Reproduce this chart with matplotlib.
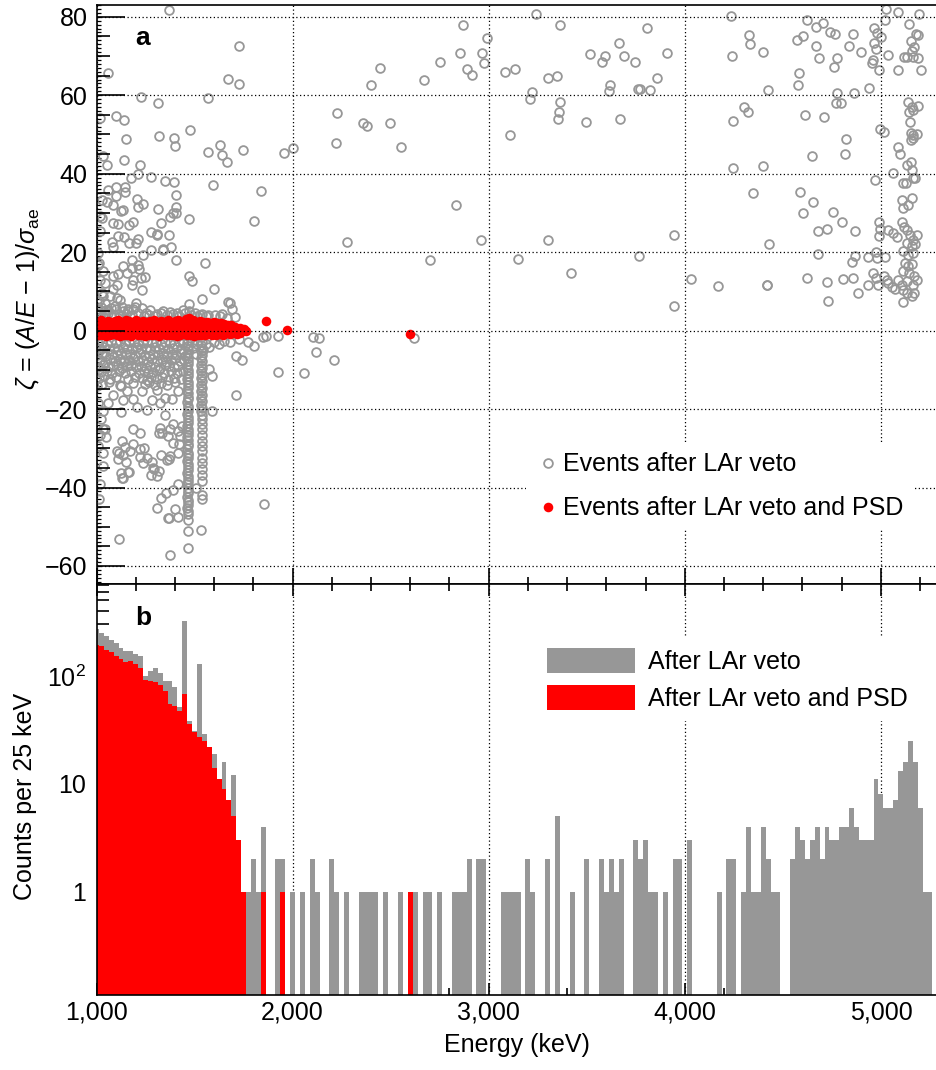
import numpy as np
import matplotlib
matplotlib.use("Agg")
import matplotlib.pyplot as plt
from matplotlib.lines import Line2D
from matplotlib.patches import Patch
from matplotlib.ticker import MultipleLocator, LogLocator, NullFormatter, StrMethodFormatter

plt.rcParams["font.family"] = ["Liberation Sans", "DejaVu Sans"]
plt.rcParams["mathtext.fontset"] = "custom"
plt.rcParams["mathtext.rm"] = "Liberation Sans"
plt.rcParams["mathtext.it"] = "Liberation Sans:italic"
plt.rcParams["mathtext.bf"] = "Liberation Sans:bold"
plt.rcParams["font.size"] = 18

# ---- panel a: (energy keV, zeta) ----
# sparse events with zeta > 3 below 2.1 MeV
grey_left_hi = [
    (1370, 81.7), (1060, 65.7), (1728, 72.6), (1669, 64.2), (1725, 62.8), (1228, 59.5),
    (1570, 59.3), (1314, 57.9), (1018, 54.1), (1101, 54.8), (1142, 53.6), (1152, 48.9),
    (1477, 51.1), (1320, 49.7), (1397, 49.0), (1399, 47.1), (1570, 45.6), (1630, 47.4),
    (1638, 44.8), (1665, 43.0), (1747, 46.0), (1956, 45.3), (2000, 46.5), (1035, 44.4),
    (1052, 42.1), (1139, 43.5), (1223, 42.3), (1210, 39.9), (1276, 39.1), (1348, 38.2),
    (1395, 38.0), (1405, 34.5), (1407, 31.5), (1404, 30.0), (1373, 28.9), (1596, 37.1),
    (1840, 35.7), (1803, 27.9), (1472, 28.4), (1315, 30.9), (1330, 27.3), (1276, 25.1),
    (1310, 24.4), (1370, 24.3), (1380, 21.4), (1341, 20.8), (1276, 20.6), (1239, 19.3),
    (1405, 18.0), (1553, 17.3), (1472, 13.8), (1489, 12.7), (1598, 10.6), (1177, 38.8),
    (1145, 36.7), (1099, 36.7), (1060, 35.9), (1099, 34.4), (1145, 35.4), (1205, 33.6),
    (1239, 32.3), (1210, 31.5), (1052, 32.9), (1086, 31.9), (1123, 30.5), (1137, 30.8),
    (1018, 29.3), (1086, 27.4), (1111, 27.2), (1167, 27.0), (1188, 27.8), (1392, 30.0),
    (1307, 24.6), (1018, 25.3), (1077, 22.7), (1111, 24.0), (1142, 23.8), (1167, 22.3),
    (1201, 22.3), (1213, 23.4), (1086, 21.3), (1338, 20.6), (1179, 17.9), (1213, 16.8),
    (1137, 16.4), (1179, 16.0), (1218, 15.7), (1014, 17.2), (1035, 15.1), (1086, 13.8),
    (1111, 14.5), (1154, 14.7), (1188, 13.0), (1225, 13.4), (1247, 13.7), (1179, 11.7),
    (1230, 10.4), (1043, 12.1), (1086, 10.6), (1103, 11.7), (1026, 9.6), (1069, 8.7),
    (1103, 8.3), (1043, 7.0), (1536, 8.1), (1472, 6.8), (1669, 7.2), (1472, 5.1),
    (1273, 5.3), (1230, 5.8), (1188, 5.5), (1375, 4.7), (1528, 4.1), (1558, 3.6),
    (1604, 3.9), (1664, 3.2), (1706, 3.4), (1094, 6.2), (1137, 4.9), (1026, 33.3),
    (1026, 28.7), (1010, 19.8), (1008, 16.8), (1018, 13.0), (1035, 8.8), (1060, 5.2),
    (1020, 4.5), (1045, 4.0), (1115, 4.3), (1160, 5.0), (1250, 4.5), (1310, 4.2),
    (1340, 5.0), (1410, 4.4), (1440, 5.2), (1500, 4.6), (1640, 4.3), (1690, 5.6),
    (1010, 4.2), (1035, 3.8), (1060, 4.4), (1090, 4.0), (1120, 3.7), (1150, 4.3),
    (1180, 3.9), (1210, 4.5), (1240, 3.8), (1270, 4.1), (1300, 3.7), (1330, 4.4),
    (1360, 3.9), (1390, 4.2), (1420, 3.8), (1450, 4.6), (1480, 4.1), (1510, 3.8),
    (1540, 4.3), (1570, 3.9), (1630, 3.7), (1005, 5.6), (1025, 6.0), (1050, 5.3),
    (1075, 5.8), (1100, 5.4), (1130, 6.1), (1160, 5.5), (1195, 5.9), (1015, 7.5),
    (1120, 7.8), (1200, 7.0), (1681, 7.1),
]

# events above 2.1 MeV (mostly alpha-like, positive zeta)
grey_right_hi = [
    (2226, 55.5), (2221, 47.8), (2357, 52.8), (2381, 52.2), (2495, 53.0), (2553, 46.8),
    (2398, 62.5), (2446, 67.0), (2672, 63.9), (2752, 68.4), (2855, 70.7), (2871, 78.0),
    (2888, 66.8), (2833, 32.1), (2276, 22.5), (2702, 18.1), (3241, 80.8), (3365, 78.0),
    (2990, 74.7), (2966, 70.8), (2977, 68.1), (2913, 65.1), (3082, 66.0), (3136, 66.7),
    (3300, 64.4), (3347, 64.9), (3219, 60.7), (3211, 59.1), (3364, 58.3), (3357, 55.6),
    (3352, 54.0), (3110, 49.9), (3498, 53.1), (3515, 70.5), (3578, 68.5), (3593, 70.0),
    (3666, 73.4), (3688, 70.0), (3744, 68.5), (3807, 77.2), (3908, 70.7), (3860, 64.5),
    (3619, 62.5), (3612, 61.1), (3760, 61.6), (3771, 61.6), (3824, 61.3), (3670, 54.0),
    (2959, 23.1), (3301, 23.1), (3151, 18.3), (3420, 14.8), (3768, 18.9), (3946, 24.4),
    (3943, 6.3), (4032, 13.2), (4168, 11.3), (4418, 11.6), (4236, 80.1), (4326, 75.3),
    (4333, 73.0), (4243, 70.0), (4400, 71.1), (4426, 61.3), (4302, 57.1), (4321, 55.7),
    (4244, 53.4), (4244, 41.4), (4397, 41.9), (4350, 35.0), (4431, 22.1),
    (5026, 81.9), (5089, 81.3), (5196, 80.8), (5022, 79.1), (4622, 79.1), (4669, 77.4),
    (4706, 78.3), (4571, 74.0), (4604, 75.1), (4740, 76.0), (4766, 75.7), (4856, 75.7),
    (4669, 72.5), (4839, 72.5), (4899, 70.9), (4686, 69.6), (4775, 69.6), (4761, 67.3),
    (4965, 77.2), (4979, 75.9), (4999, 74.9), (4966, 73.2), (4975, 71.9), (4958, 69.1),
    (4953, 68.3), (4992, 66.4), (5038, 70.2), (5143, 78.1), (5179, 75.7), (5191, 75.3),
    (5152, 73.9), (5169, 72.3), (5157, 71.3), (5118, 69.8), (5132, 69.8), (5165, 69.8),
    (5188, 69.6), (5089, 66.4), (5204, 66.4), (4584, 65.7), (4576, 62.6), (4775, 60.5),
    (4771, 57.9), (4795, 58.1), (4864, 60.6), (4938, 61.8), (4613, 55.0), (4711, 54.4),
    (4995, 51.3), (5016, 50.7), (4822, 48.8), (4647, 44.4), (4817, 45.0), (5140, 58.3),
    (5157, 57.1), (5191, 57.3), (5145, 55.6), (5162, 56.2), (5148, 53.3), (5152, 50.3),
    (5162, 49.9), (5183, 50.1), (5152, 48.6), (5165, 49.0), (5089, 46.7), (5097, 45.0),
    (5132, 42.2), (5154, 43.1), (5157, 41.0), (5174, 38.9), (5162, 38.9), (5111, 37.7),
    (5128, 37.6), (5063, 40.3), (4970, 38.4), (4587, 35.3), (4655, 32.9), (4604, 29.9),
    (4754, 30.3), (4802, 27.7), (4681, 25.5), (4723, 25.9), (4868, 25.3), (4988, 27.8),
    (4997, 25.9), (4988, 24.2), (5038, 25.7), (5063, 25.0), (5084, 23.8), (5106, 33.3),
    (5114, 31.2), (5140, 32.1), (5157, 33.8), (5108, 27.8), (5118, 26.5), (5132, 25.7),
    (5148, 24.4), (5165, 23.2), (5183, 24.4), (5132, 22.3), (5157, 21.5), (5174, 22.1),
    (5114, 20.2), (5140, 19.3), (5162, 19.8), (5123, 17.2), (5140, 16.4), (5157, 17.0),
    (5114, 15.1), (5145, 14.7), (5169, 13.8), (5183, 12.8), (5089, 13.0), (5132, 12.7),
    (5108, 11.7), (5162, 11.7), (5114, 10.4), (5169, 9.6), (5157, 8.7), (5111, 7.2),
    (5132, 9.6), (4975, 20.0), (5021, 18.8), (4936, 18.8), (4979, 18.5), (4868, 19.1),
    (4851, 17.6), (4681, 19.6), (4961, 14.7), (4975, 13.4), (4987, 11.5), (4936, 11.5),
    (5016, 14.0), (5038, 12.1), (5055, 11.1), (5072, 10.6), (5029, 13.0), (4622, 13.4),
    (4723, 12.5), (4808, 13.2), (4859, 13.4), (4421, 11.5), (4732, 7.6), (4882, 9.6),
]

# dense population just below the band (zeta -3 ... -14)
grey_core_lo = [
    (1008, -3.1), (1030, -2.8), (1052, -3.3), (1075, -2.9), (1098, -3.2), (1121, -2.7),
    (1144, -3.4), (1167, -3.0), (1190, -2.8), (1213, -3.3), (1236, -3.1), (1259, -2.7),
    (1282, -3.2), (1305, -3.0), (1328, -3.4), (1351, -2.8), (1374, -3.1), (1397, -3.3),
    (1420, -2.9), (1443, -3.2), (1485, -2.9), (1510, -3.3), (1560, -3.5), (1600, -2.8),
    (1625, -3.3), (1650, -2.6), (1680, -3.0), (1015, -4.6), (1040, -4.3), (1063, -4.8),
    (1088, -4.4), (1110, -4.9), (1135, -4.2), (1158, -4.7), (1180, -4.5), (1205, -4.1),
    (1228, -4.8), (1250, -4.4), (1272, -4.9), (1296, -4.3), (1318, -4.6), (1340, -4.2),
    (1365, -4.8), (1388, -4.5), (1410, -4.3), (1432, -4.7), (1490, -4.4), (1545, -5.0),
    (1575, -4.2), (1005, -6.1), (1028, -5.8), (1050, -6.4), (1078, -5.9), (1102, -6.3),
    (1125, -5.7), (1150, -6.2), (1172, -6.0), (1195, -6.5), (1222, -5.8), (1245, -6.2),
    (1268, -6.6), (1290, -5.9), (1315, -6.3), (1338, -5.7), (1360, -6.4), (1384, -6.0),
    (1405, -6.2), (1430, -5.8), (1452, -6.5), (1505, -6.0), (1020, -7.4), (1045, -7.9),
    (1068, -7.2), (1092, -7.7), (1118, -7.3), (1140, -8.0), (1165, -7.5), (1188, -7.1),
    (1210, -7.8), (1235, -7.4), (1262, -7.9), (1285, -7.3), (1310, -7.7), (1332, -7.2),
    (1356, -8.0), (1378, -7.5), (1400, -7.1), (1425, -7.8), (1445, -7.4), (1010, -9.2),
    (1035, -8.8), (1060, -9.4), (1085, -9.0), (1108, -8.7), (1130, -9.5), (1155, -9.1),
    (1178, -8.8), (1200, -9.3), (1225, -9.0), (1250, -9.6), (1275, -8.9), (1300, -9.2),
    (1325, -9.5), (1348, -8.8), (1372, -9.1), (1395, -9.4), (1418, -8.9), (1025, -10.6),
    (1055, -10.2), (1080, -10.9), (1115, -10.4), (1145, -10.8), (1175, -10.3), (1215, -10.7),
    (1240, -10.2), (1265, -10.9), (1290, -10.5), (1320, -10.1), (1345, -10.8), (1380, -10.4),
    (1410, -10.7), (1440, -10.3), (1012, -12.1), (1040, -11.7), (1070, -12.4), (1100, -11.9),
    (1160, -12.3), (1195, -11.8), (1230, -12.2), (1255, -12.6), (1280, -11.9), (1310, -12.3),
    (1335, -11.8), (1365, -12.5), (1395, -12.0), (1430, -12.4), (1030, -13.6), (1065, -13.2),
    (1120, -13.8), (1185, -13.3), (1245, -13.7), (1270, -13.1), (1300, -13.9), (1330, -13.4),
    (1360, -13.8), (1400, -13.2),
]

# sparse negative-zeta events (multi-site / surface)
grey_lo = [
    (1727, -2.1), (1774, -3.0), (1805, -4.0), (1863, -1.3), (1851, -1.6), (1927, -1.4),
    (1710, -6.4), (1740, -7.5), (1927, -10.5), (2060, -10.8), (1710, -16.5), (1590, -20.5),
    (1575, -9.7), (1587, -11.5), (1854, -44.3), (2106, -1.6), (2135, -2.0), (2118, -5.5),
    (2211, -7.5), (2621, -1.9), (1116, -53.2), (1375, -57.2), (1327, -42.6), (1370, -47.7),
    (1400, -45.5), (1414, -47.5), (1389, -40.7), (1414, -39.2), (1507, -40.2), (1129, -37.5),
    (1159, -36.1), (1278, -36.8), (1290, -35.1), (1320, -35.8), (1239, -33.7), (1222, -32.1),
    (1113, -31.1), (1137, -31.8), (1171, -30.7), (1188, -28.8), (1129, -28.2), (1145, -29.8),
    (1329, -31.6), (1370, -32.8), (1375, -32.0), (1361, -33.0), (1222, -30.3), (1422, -29.0),
    (1324, -24.8), (1320, -26.0), (1188, -25.0), (1222, -26.2), (1389, -23.7), (1417, -25.6),
    (1349, -21.6), (1035, -20.4), (1123, -20.8), (1208, -19.5), (1256, -20.3), (1035, -25.0),
    (1035, -34.5), (1083, -16.5), (1134, -17.6), (1188, -17.4), (1230, -15.4), (1285, -17.8),
    (1324, -18.4), (1349, -17.1), (1387, -17.4), (1417, -15.4), (1123, -14.2), (1154, -15.3),
    (1307, -15.2), (1103, -30.7), (1111, -32.8), (1150, -33.5), (1125, -36.2), (1167, -36.1),
    (1134, -37.7), (1242, -29.9), (1256, -32.4), (1281, -33.5), (1293, -35.2), (1307, -37.1),
    (1307, -45.2), (1353, -41.3), (1366, -47.7), (1334, -26.0), (1366, -26.9), (1375, -25.2),
    (1392, -28.6), (1417, -31.1), (1434, -24.3), (1426, -26.9), (1043, -25.2), (1018, -26.5),
    (1035, -31.1), (1018, -39.2), (1005, -14.0), (1010, -18.5), (1025, -22.5), (1008, -29.5),
    (1012, -43.0), (1060, -18.5), (1050, -27.0),
]

# 40K (1461 keV) and 42K (1525 keV) gamma-line columns
k40_column = [
    (1466, -2.5), (1464, -3.2), (1467, -4.0), (1465, -4.7), (1466, -5.6), (1464, -6.2),
    (1467, -7.0), (1465, -7.8), (1466, -8.5), (1464, -9.3), (1467, -10.0), (1465, -10.7),
    (1466, -11.5), (1464, -12.4), (1467, -13.0), (1465, -13.8), (1466, -14.6), (1464, -15.3),
    (1467, -16.0), (1465, -16.9), (1466, -17.5), (1464, -18.3), (1467, -19.1), (1465, -19.8),
    (1466, -20.5), (1464, -21.2), (1467, -22.0), (1465, -22.9), (1466, -23.5), (1464, -24.3),
    (1467, -25.1), (1465, -25.8), (1466, -26.5), (1464, -27.2), (1467, -28.0), (1465, -28.9),
    (1466, -29.5), (1464, -30.3), (1467, -31.1), (1465, -31.8), (1466, -32.5), (1464, -33.2),
    (1467, -34.0), (1465, -34.9), (1466, -35.5), (1464, -36.3), (1467, -37.1), (1465, -37.8),
    (1466, -38.5), (1464, -39.2), (1467, -40.0), (1465, -40.9), (1466, -41.5), (1464, -42.3),
    (1467, -43.1), (1465, -43.8), (1466, -44.5), (1464, -45.2), (1467, -46.0), (1466, -46.8),
    (1468, -48.3), (1468, -51.1), (1468, -55.5),
]
k42_column = [
    (1536, -2.8), (1534, -3.6), (1537, -4.5), (1535, -5.3), (1536, -6.1), (1534, -7.0),
    (1537, -7.8), (1535, -8.7), (1536, -9.5), (1534, -10.4), (1537, -11.2), (1535, -12.1),
    (1536, -12.9), (1534, -13.8), (1537, -14.6), (1535, -15.5), (1536, -16.3), (1534, -17.2),
    (1537, -18.0), (1535, -18.9), (1536, -19.7), (1534, -20.6), (1537, -21.4), (1536, -22.6),
    (1536, -23.9), (1536, -25.2), (1536, -26.7), (1536, -28.2), (1536, -29.5), (1536, -30.8),
    (1536, -32.4), (1536, -33.7), (1536, -35.4), (1536, -36.8), (1536, -38.4), (1536, -41.9),
    (1536, -43.0), (1533, -50.9),
]

# events surviving PSD (red band)
red_band = [
    (1004, 2.3), (1022, 2.6), (1040, 2.2), (1058, 2.5), (1076, 2.1), (1094, 2.4), (1112, 2.7),
    (1130, 2.3), (1148, 2.8), (1166, 2.5), (1184, 2.2), (1202, 2.6), (1220, 2.3), (1238, 2.5),
    (1256, 2.1), (1274, 2.4), (1292, 2.6), (1310, 2.2), (1328, 2.5), (1346, 2.3), (1364, 2.6),
    (1382, 2.2), (1400, 2.4), (1418, 2.7), (1436, 2.3), (1454, 2.9), (1472, 3.1), (1490, 2.6),
    (1508, 2.3), (1526, 2.5), (1544, 2.1), (1562, 2.3), (1580, 2.0), (1598, 2.2), (1616, 1.9),
    (1634, 2.0), (1652, 1.7), (1670, 1.5), (1688, 1.3), (1706, 1.0),
    (1013, 1.1), (1031, 0.9), (1049, 1.2), (1067, 0.8), (1085, 1.0), (1103, 1.3), (1121, 0.9),
    (1139, 1.1), (1157, 0.8), (1175, 1.2), (1193, 1.0), (1211, 0.9), (1229, 1.3), (1247, 1.0),
    (1265, 0.8), (1283, 1.1), (1301, 1.2), (1319, 0.9), (1337, 1.0), (1355, 1.3), (1373, 0.8),
    (1391, 1.1), (1409, 1.0), (1427, 1.2), (1445, 0.9), (1463, 1.3), (1481, 1.0), (1499, 0.8),
    (1517, 1.1), (1535, 1.2), (1553, 0.9), (1571, 1.0), (1589, 0.8), (1607, 1.1), (1625, 0.9),
    (1643, 0.7), (1661, 1.0), (1679, 0.6), (1697, 0.8), (1715, 0.5), (1733, 0.6), (1751, 0.3),
    (1004, -0.1), (1022, 0.1), (1040, -0.3), (1058, 0.0), (1076, -0.2), (1094, 0.1), (1112, -0.1),
    (1130, -0.3), (1148, 0.0), (1166, -0.2), (1184, 0.1), (1202, -0.1), (1220, -0.3), (1238, 0.0),
    (1256, 0.2), (1274, -0.2), (1292, 0.0), (1310, -0.1), (1328, 0.1), (1346, -0.3), (1364, 0.0),
    (1382, -0.2), (1400, 0.1), (1418, -0.1), (1436, 0.0), (1454, -0.2), (1472, 0.1), (1490, -0.1),
    (1508, -0.3), (1526, 0.0), (1544, -0.2), (1562, 0.1), (1580, -0.1), (1598, 0.0), (1616, -0.2),
    (1634, 0.1), (1652, -0.1), (1670, 0.0), (1688, -0.2), (1706, 0.1), (1724, -0.1), (1742, 0.0),
    (1760, -0.1),
    (1013, -1.2), (1031, -1.0), (1049, -1.3), (1067, -1.1), (1085, -0.9), (1103, -1.2), (1121, -1.3),
    (1139, -1.0), (1157, -1.1), (1175, -1.3), (1193, -0.9), (1211, -1.2), (1229, -1.0), (1247, -1.3),
    (1265, -1.1), (1283, -1.0), (1301, -1.2), (1319, -1.3), (1337, -0.9), (1355, -1.1), (1373, -1.2),
    (1391, -1.0), (1409, -1.3), (1427, -1.1), (1445, -0.9), (1463, -1.2), (1481, -1.0), (1499, -1.3),
    (1517, -1.1), (1535, -1.0), (1553, -1.2), (1571, -0.9), (1589, -1.1), (1607, -1.0), (1625, -0.8),
    (1643, -1.0), (1661, -0.7), (1679, -0.9), (1697, -0.6), (1715, -0.8), (1733, -0.5),
]
red_isolated = [(1864, 2.5), (1970, 0.1), (2599, -0.8)]

# ---- panel b: counts per 25 keV, first bin starts at 987.5 keV ----
bin_start = 987.5
bin_width = 25
grey_counts = [
    270, 250, 235, 215, 200, 183, 170, 170, 160, 153,
    100, 110, 117, 107, 90, 90, 78, 51, 322, 38,
    31, 128, 29, 22, 19, 11, 16, 7, 12, 3,
    1, 1, 2, 1, 4, 0, 0, 2, 2, 0,
    1, 0, 1, 0, 2, 1, 0, 0, 2, 1,
    0, 1, 0, 0, 1, 1, 1, 1, 0, 1,
    0, 0, 1, 0, 1, 1, 0, 1, 1, 0,
    1, 0, 0, 1, 1, 1, 2, 0, 2, 2,
    0, 0, 0, 1, 1, 1, 1, 0, 2, 1,
    0, 0, 2, 0, 5, 0, 0, 1, 0, 0,
    2, 0, 0, 2, 1, 2, 1, 2, 0, 0,
    3, 2, 3, 1, 1, 0, 1, 0, 2, 2,
    0, 3, 0, 0, 0, 0, 0, 1, 0, 2,
    2, 0, 1, 4, 1, 1, 4, 2, 1, 1,
    0, 0, 2, 4, 3, 2, 3, 4, 2, 4,
    3, 3, 4, 4, 6, 4, 3, 3, 3, 11,
    8, 6, 6, 7, 13, 16, 25, 16, 6, 1,
    1,
]
red_counts = [
    195, 190, 175, 165, 153, 142, 133, 137, 128, 117,
    92, 90, 87, 82, 73, 55, 53, 47, 68, 36,
    30, 27, 25, 22, 14, 11, 9, 7, 5, 3,
    1,
]
red_single_bins = [1850, 1950, 2600]   # bin centres with one surviving event

energy_ticks = [1000, 2000, 3000, 4000, 5000]
zeta_ticks = [-60, -40, -20, 0, 20, 40, 60, 80]

GREY = "#979797"
RED = "#ff0000"
GREY_MS, GREY_MEW, RED_MS = 6.3, 1.3, 6.9
W, H = 936, 1070

fig = plt.figure(figsize=(W / 100, H / 100), dpi=100)
left, right = 96.5, 937.8
ax_a = fig.add_axes([left / W, 1 - 584 / H, (right - left) / W, (584 - 5) / H])
ax_b = fig.add_axes([left / W, 1 - 995 / H, (right - left) / W, (995 - 584) / H], sharex=ax_a)

# --- panel a ---
for group in (grey_left_hi, grey_right_hi, grey_core_lo, grey_lo, k40_column, k42_column):
    e, z = np.array(group).T
    ax_a.plot(e, z, ls="none", marker="o", mfc="none", mec=GREY, ms=GREY_MS, mew=GREY_MEW, zorder=2)
for group in (red_band, red_isolated):
    e, z = np.array(group).T
    ax_a.plot(e, z, ls="none", marker="o", color=RED, mec=RED, ms=RED_MS, mew=0, zorder=2.2)

ax_a.set_xlim(1000, 5290)
ax_a.set_ylim(-64.6, 83)
ax_a.set_yticks(zeta_ticks)
ax_a.yaxis.set_minor_locator(MultipleLocator(5))
ax_a.set_axisbelow(False)
ax_a.grid(True, which="major", color="black", ls=(0, (1, 2)), lw=0.9)
ax_a.tick_params(which="both", direction="in", top=False, right=False, width=1.2, labelbottom=False)
ax_a.tick_params(axis="y", which="major", length=20, pad=6.5)
ax_a.tick_params(axis="y", which="minor", length=9.5)
ax_a.tick_params(axis="x", which="major", length=11.5)
ax_a.tick_params(axis="x", which="minor", length=4.7)
for sp in ax_a.spines.values():
    sp.set_linewidth(1.2)

# fine 1-unit ruler ticks on the zeta axis
sec = ax_a.secondary_yaxis("left")
sec.yaxis.set_major_locator(MultipleLocator(1))
sec.yaxis.set_major_formatter(NullFormatter())
sec.tick_params(direction="in", length=2.6, width=0.9)
sec.spines["left"].set_visible(False)

ax_a.set_ylabel(r"$\zeta$ = ($A$/$E$ − 1)/$\sigma_{\mathrm{ae}}$", va="center")
ax_a.yaxis.set_label_coords(-0.0815, 0.492)
ax_a.text(0.0553, 0.943, "a", transform=ax_a.transAxes, ha="center", va="center",
          fontweight="bold", fontsize=19)

handles_a = [
    Line2D([], [], ls="none", marker="o", mfc="none", mec=GREY, ms=GREY_MS, mew=GREY_MEW),
    Line2D([], [], ls="none", marker="o", color=RED, ms=RED_MS, mew=0),
]
ax_a.legend(handles_a, ["Events after LAr veto", "Events after LAr veto and PSD"],
            loc="upper left", bbox_to_anchor=(0.510, 0.2444), borderaxespad=0,
            frameon=True, facecolor="white", edgecolor="none", framealpha=1, fancybox=False,
            handlelength=1.0, handletextpad=0.1, labelspacing=0.8, borderpad=0.4)

# --- panel b ---
edges = bin_start + bin_width * np.arange(len(grey_counts))
g = np.array(grey_counts, dtype=float)
ax_b.bar(edges[g > 0], g[g > 0], width=bin_width, align="edge", color=GREY, lw=0, zorder=2, log=True)
r = np.array(red_counts, dtype=float)
ax_b.bar(edges[:len(r)][r > 0], r[r > 0], width=bin_width, align="edge", color=RED, lw=0, zorder=2.1)
ax_b.bar(red_single_bins, [1] * len(red_single_bins), width=bin_width, color=RED, lw=0, zorder=2.1)

for x in energy_ticks[1:]:
    ax_b.axvline(x, color="black", ls=(0, (1, 2)), lw=0.9, zorder=1)

ax_b.set_yscale("log")
ax_b.set_ylim(0.11, 710)
ax_b.set_yticks([1, 10, 100], labels=["1", "10", r"$10^2$"])
ax_b.yaxis.set_minor_locator(LogLocator(base=10, subs=(2, 3, 4, 5, 6, 7, 8, 9)))
ax_b.yaxis.set_minor_formatter(NullFormatter())
ax_b.set_xticks(energy_ticks)
ax_b.xaxis.set_major_formatter(StrMethodFormatter("{x:,.0f}"))
ax_b.xaxis.set_minor_locator(MultipleLocator(200))
ax_b.set_xlim(1000, 5290)
ax_b.tick_params(which="both", direction="in", top=True, bottom=True, right=False, width=1.2)
ax_b.tick_params(axis="x", which="major", length=8.6, pad=4)
ax_b.tick_params(axis="x", which="minor", length=4.7)
ax_b.tick_params(axis="y", which="major", length=16.5, pad=7.5)
ax_b.tick_params(axis="y", which="minor", length=8.6)
for sp in ax_b.spines.values():
    sp.set_linewidth(1.2)

ax_b.set_xlabel("Energy (keV)", labelpad=6)
ax_b.set_ylabel("Counts per 25 keV", va="center")
ax_b.yaxis.set_label_coords(-0.085, 0.482)
ax_b.text(0.0553, 0.917, "b", transform=ax_b.transAxes, ha="center", va="center",
          fontweight="bold", fontsize=19)

handles_b = [Patch(facecolor=GREY, edgecolor="none"), Patch(facecolor=RED, edgecolor="none")]
ax_b.legend(handles_b, ["After LAr veto", "After LAr veto and PSD"],
            loc="upper left", bbox_to_anchor=(0.5236, 0.8674), borderaxespad=0,
            frameon=True, facecolor="white", edgecolor="none", framealpha=1, fancybox=False,
            handlelength=3.52, handleheight=1.12, handletextpad=0.52, labelspacing=0.45,
            borderpad=0.4)

fig.savefig("out.png", dpi=100)
